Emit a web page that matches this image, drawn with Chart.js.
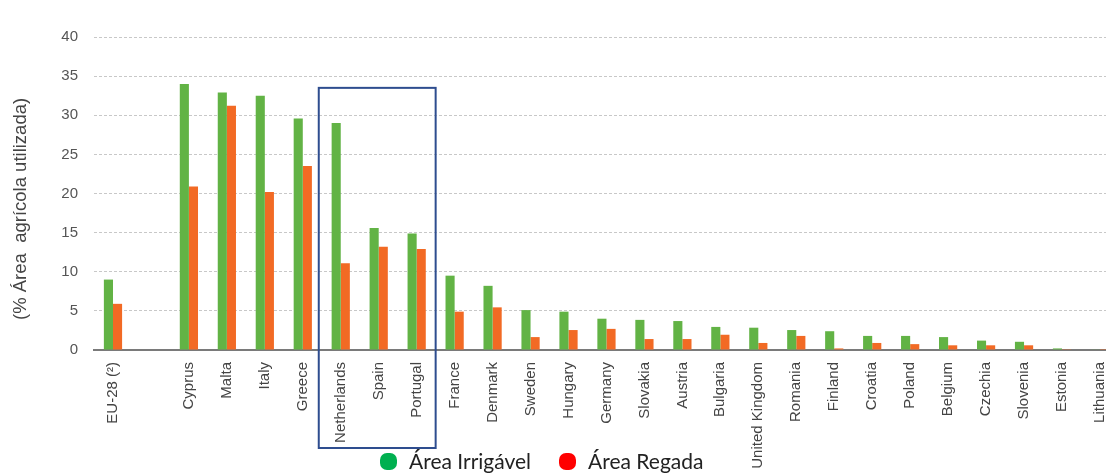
<!DOCTYPE html>
<html>
<head>
<meta charset="utf-8">
<script src="https://cdn.jsdelivr.net/npm/chart.js@4/dist/chart.umd.min.js"></script>
<style>
  html, body { margin: 0; padding: 0; background: #fff; overflow: hidden; }
  #wrap { position: relative; width: 1106px; height: 476px; overflow: hidden; }
  #c { position: absolute; left: 0; top: 0; }
  #legend {
    position: absolute; left: 380px; top: 448px;
    font: 21px Lato, "Open Sans", sans-serif; color: #222;
    display: flex; gap: 28px; white-space: nowrap;
  }
  #legend span.dot {
    display: inline-block; width: 17px; height: 17px; border-radius: 7px;
    vertical-align: -1px; margin-right: 12px;
  }
</style>
</head>
<body>
<div id="wrap">
  <canvas id="c"></canvas>
  <div id="legend"></div>
</div>
<script>
"use strict";

const categories = [
  "EU-28 (²)", "", "Cyprus", "Malta", "Italy", "Greece", "Netherlands", "Spain", "Portugal",
  "France", "Denmark", "Sweden", "Hungary", "Germany", "Slovakia", "Austria", "Bulgaria",
  "United Kingdom", "Romania", "Finland", "Croatia", "Poland", "Belgium", "Czechia",
  "Slovenia", "Estonia", "Lithuania",
];
const irrigavel = [
  9.0, null, 34.0, 32.9, 32.5, 29.6, 29.0, 15.6, 14.9,
  9.5, 8.2, 5.1, 4.9, 4.0, 3.85, 3.7, 2.95,
  2.85, 2.55, 2.4, 1.8, 1.8, 1.65, 1.2,
  1.05, 0.2, 0.05,
];
const regada = [
  5.9, null, 20.9, 31.2, 20.2, 23.5, 11.1, 13.2, 12.9,
  4.9, 5.45, 1.65, 2.55, 2.7, 1.4, 1.4, 1.95,
  0.9, 1.8, 0.2, 0.9, 0.75, 0.6, 0.6,
  0.6, 0.03, 0.02,
];
const yTicks = [0, 5, 10, 15, 20, 25, 30, 35, 40];
const seriesNames = ["Área Irrigável", "Área Regada"];
const barColors = ["#62b345", "#f26a24"];
const legendColors = ["#00b050", "#ff0000"];
const highlight = { from: "Netherlands", to: "Portugal", top: 33.5 };

const $ = (sel) => document.querySelector(sel);

// caixa azul à volta de Netherlands / Spain / Portugal
const boxPlugin = {
  id: "highlightBox",
  afterDraw(chart) {
    const x = chart.scales.x;
    const y = chart.scales.y;
    const i0 = categories.indexOf(highlight.from);
    const i1 = categories.indexOf(highlight.to);
    const left = x.getPixelForValue(i0 - 0.5) - 3;
    const right = x.getPixelForValue(i1 + 0.5);
    const top = y.getPixelForValue(highlight.top);
    const bottom = chart.chartArea.bottom + 98;
    const ctx = chart.ctx;
    ctx.save();
    ctx.strokeStyle = "#2e4d8f";
    ctx.lineWidth = 2;
    ctx.strokeRect(left, top, right - left, bottom - top);
    ctx.restore();
  },
};

const canvas = $("#c");
canvas.width = 1122;
canvas.height = 476;
canvas.style.width = "1122px";
canvas.style.height = "476px";

new Chart(canvas, {
  type: "bar",
  data: {
    labels: categories,
    datasets: seriesNames.map((name, i) => ({
      label: name,
      data: i === 0 ? irrigavel : regada,
      backgroundColor: barColors[i],
      categoryPercentage: 0.48,
      barPercentage: 1.0,
    })),
  },
  options: {
    responsive: false,
    animation: false,
    layout: { padding: { top: 37, right: 2, left: 0, bottom: 0 } },
    plugins: {
      legend: { display: false },
      tooltip: { enabled: false },
    },
    scales: {
      x: {
        grid: { display: false },
        border: { color: "#7a7a7a", width: 2 },
        ticks: {
          color: "#444",
          font: { family: "Liberation Sans", size: 15 },
          minRotation: 90, maxRotation: 90,
          autoSkip: false, padding: 4,
        },
        afterFit(scale) { scale.height = 126; },
      },
      y: {
        min: 0, max: 40,
        afterBuildTicks(scale) { scale.ticks = yTicks.map((v) => ({ value: v })); },
        grid: { color: "#c8c8c8", drawTicks: false, lineWidth: 1 },
        border: { display: false, dash: [3, 2] },
        ticks: {
          color: "#555",
          font: { family: "Liberation Sans", size: 15 },
          padding: 16,
        },
        title: {
          display: true,
          text: "(% Área  agrícola utilizada)\u00a0\u00a0\u00a0\u00a0\u00a0\u00a0",
          color: "#444",
          font: { family: "Liberation Sans", size: 18.5 },
          padding: { top: 10, bottom: 6 },
        },
        afterFit(scale) { scale.width = 94; },
      },
    },
  },
  plugins: [boxPlugin],
});

const legend = $("#legend");
seriesNames.forEach((name, i) => {
  const item = document.createElement("span");
  const dot = document.createElement("span");
  dot.className = "dot";
  dot.style.background = legendColors[i];
  item.appendChild(dot);
  item.appendChild(document.createTextNode(name));
  legend.appendChild(item);
});
</script>
</body>
</html>
